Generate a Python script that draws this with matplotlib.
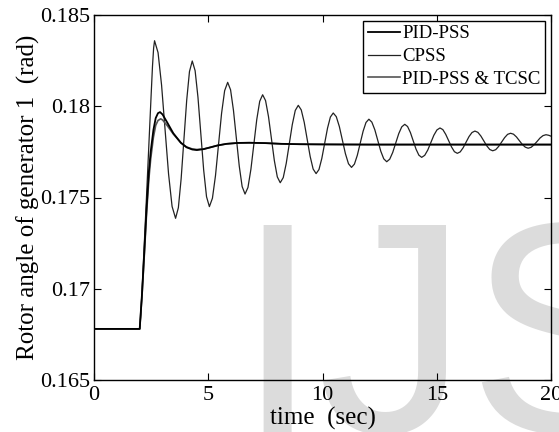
import matplotlib
matplotlib.use("Agg")
import matplotlib.pyplot as plt

# ---- data ----
t_pid = [0.0, 2.0, 2.1, 2.2, 2.3, 2.4, 2.48, 2.6, 2.7, 2.8, 2.89, 3.0, 3.2, 3.47, 3.8,
         4.05, 4.3, 4.5, 4.8, 5.1, 5.4, 5.8, 6.3, 6.8, 7.5, 8.2, 9.0, 10.0, 12.0,
         14.0, 16.0, 18.0, 20.0]
pid_pss = [0.1678, 0.1678, 0.1697, 0.1720, 0.1744, 0.1764, 0.1775, 0.1787, 0.17935,
           0.17962, 0.17968, 0.17955, 0.17912, 0.17852, 0.17800, 0.17775, 0.17763,
           0.17760, 0.17765, 0.17775, 0.17785, 0.17794, 0.17799, 0.17800, 0.17798,
           0.17794, 0.17792, 0.17791, 0.17790, 0.17790, 0.17790, 0.17790, 0.17790]

t_tcsc = [0.0, 2.0, 2.1, 2.2, 2.3, 2.4, 2.48, 2.6, 2.7, 2.8, 2.92, 3.0, 3.2, 3.47, 3.8,
          4.05, 4.3, 4.5, 4.8, 5.1, 5.4, 5.8, 6.3, 6.8, 7.5, 8.2, 9.0, 10.0, 12.0,
          14.0, 16.0, 18.0, 20.0]
pid_pss_tcsc = [0.1678, 0.1678, 0.1696, 0.1718, 0.1741, 0.1760, 0.1771, 0.1783, 0.17895,
                0.17922, 0.17931, 0.17925, 0.17895, 0.17848, 0.17800, 0.17777, 0.17766,
                0.17763, 0.17766, 0.17775, 0.17785, 0.17794, 0.17799, 0.17800, 0.17798,
                0.17794, 0.17792, 0.17791, 0.17790, 0.17790, 0.17790, 0.17790, 0.17790]

t_cpss = [0.0, 2.0, 2.05, 2.1, 2.2, 2.3, 2.4, 2.5, 2.56, 2.61, 2.65,
          2.803, 2.957, 3.110, 3.263, 3.417, 3.57,
          3.692, 3.813, 3.935, 4.057, 4.178, 4.30,
          4.425, 4.55, 4.675, 4.80, 4.925, 5.05,
          5.183, 5.317, 5.45, 5.583, 5.717, 5.85,
          5.977, 6.103, 6.23, 6.357, 6.483, 6.61,
          6.738, 6.867, 6.995, 7.123, 7.252, 7.38,
          7.508, 7.637, 7.765, 7.893, 8.022, 8.15,
          8.282, 8.413, 8.545, 8.677, 8.808, 8.94,
          9.07, 9.20, 9.33, 9.46, 9.59, 9.72,
          9.845, 9.97, 10.095, 10.22, 10.345, 10.47,
          10.603, 10.737, 10.87, 11.003, 11.137, 11.27,
          11.397, 11.523, 11.65, 11.777, 11.903, 12.03,
          12.16, 12.29, 12.42, 12.55, 12.68, 12.81,
          12.942, 13.073, 13.205, 13.337, 13.468, 13.60,
          13.723, 13.847, 13.97, 14.093, 14.217, 14.34,
          14.473, 14.607, 14.74, 14.873, 15.007, 15.14,
          15.267, 15.393, 15.52, 15.647, 15.773, 15.90,
          16.028, 16.157, 16.285, 16.413, 16.542, 16.67,
          16.80, 16.93, 17.06, 17.19, 17.32, 17.45,
          17.58, 17.71, 17.84, 17.97, 18.10, 18.23,
          18.358, 18.487, 18.615, 18.743, 18.872, 19.00,
          19.13, 19.26, 19.39, 19.52, 19.65, 19.78,
          19.90, 20.0]
cpss = [0.1678, 0.1678, 0.1686, 0.1698, 0.1724, 0.1751, 0.1779, 0.1806, 0.1822, 0.1832, 0.18359,
        0.18294, 0.18116, 0.17873, 0.17629, 0.17451, 0.17386,
        0.17444, 0.17602, 0.17817, 0.18033, 0.18190, 0.18248,
        0.18195, 0.18049, 0.17849, 0.17650, 0.17504, 0.17450,
        0.17496, 0.17620, 0.17791, 0.17961, 0.18085, 0.18131,
        0.18090, 0.17978, 0.17825, 0.17672, 0.17560, 0.17519,
        0.17555, 0.17655, 0.17791, 0.17927, 0.18027, 0.18063,
        0.18031, 0.17943, 0.17822, 0.17702, 0.17613, 0.17581,
        0.17609, 0.17687, 0.17793, 0.17899, 0.17977, 0.18005,
        0.17980, 0.17912, 0.17818, 0.17725, 0.17656, 0.17631,
        0.17653, 0.17714, 0.17797, 0.17880, 0.17941, 0.17963,
        0.17943, 0.17889, 0.17814, 0.17740, 0.17685, 0.17665,
        0.17683, 0.17731, 0.17797, 0.17863, 0.17911, 0.17929,
        0.17913, 0.17871, 0.17813, 0.17754, 0.17712, 0.17696,
        0.17710, 0.17747, 0.17799, 0.17850, 0.17887, 0.17901,
        0.17889, 0.17856, 0.17811, 0.17765, 0.17732, 0.17720,
        0.17731, 0.17760, 0.17801, 0.17841, 0.17870, 0.17881,
        0.17872, 0.17846, 0.17812, 0.17777, 0.17751, 0.17742,
        0.17750, 0.17773, 0.17803, 0.17834, 0.17856, 0.17864,
        0.17857, 0.17837, 0.17810, 0.17783, 0.17763, 0.17756,
        0.17762, 0.17780, 0.17804, 0.17828, 0.17846, 0.17852,
        0.17847, 0.17832, 0.17811, 0.17791, 0.17776, 0.17770,
        0.17775, 0.17789, 0.17807, 0.17826, 0.17839, 0.17844,
        0.17841, 0.17836]

labels = ["PID-PSS", "CPSS", "PID-PSS & TCSC"]
x_ticks = [0, 5, 10, 15, 20]
y_ticks = [0.165, 0.17, 0.175, 0.18, 0.185]
y_tick_labels = ["0.165", "0.17", "0.175", "0.18", "0.185"]

# ---- figure ----
plt.rcParams['font.family'] = ['Liberation Serif', 'DejaVu Serif']
fig = plt.figure(figsize=(5.59, 4.32), dpi=100)
ax = fig.add_axes([94 / 559, 52 / 432, 457 / 559, 365 / 432])
ax.patch.set_alpha(0)

# watermark
fig.text(235 / 559, 0 / 432, "IJS", fontsize=216, color='#dcdcdc',
         family='Liberation Sans', va='baseline', ha='left', zorder=-5)

l1, = ax.plot(t_pid, pid_pss, color='black', lw=1.3, zorder=4)
l2, = ax.plot(t_cpss, cpss, color='#222222', lw=0.9, zorder=3)
l3, = ax.plot(t_tcsc, pid_pss_tcsc, color='#555555', lw=1.2, zorder=3)

ax.set_xlim(0, 20)
ax.set_ylim(0.165, 0.185)
ax.set_xticks(x_ticks)
ax.set_xticklabels([str(v) for v in x_ticks])
ax.set_yticks(y_ticks)
ax.set_yticklabels(y_tick_labels)
ax.tick_params(direction='in', top=True, right=True, length=5, width=0.8,
               labelsize=16)
ax.tick_params(axis='x', pad=4)
ax.tick_params(axis='y', pad=3)
for s in ax.spines.values():
    s.set_linewidth(1.0)
    s.set_color('black')

ax.set_xlabel("time  (sec)", fontsize=18, labelpad=2)
ax.set_ylabel("Rotor angle of generator 1  (rad)", fontsize=18, labelpad=0)

leg = ax.legend([l1, l2, l3], labels, loc='upper right', fontsize=13.5,
                frameon=True, fancybox=False, framealpha=1, edgecolor='black',
                handlelength=1.75, handletextpad=0.1, labelspacing=0.3,
                borderpad=0.25, borderaxespad=0.3)
leg.get_frame().set_linewidth(1.0)

fig.savefig("out.png", dpi=100)
